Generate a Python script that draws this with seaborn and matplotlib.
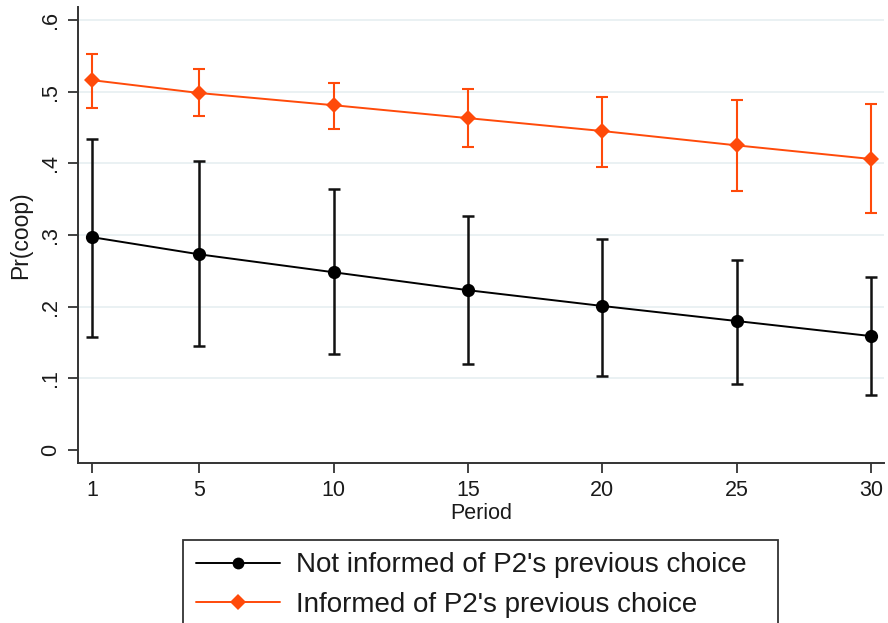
import matplotlib
matplotlib.use("Agg")
import matplotlib.pyplot as plt
from matplotlib.lines import Line2D
import seaborn as sns
import pandas as pd
import numpy as np

periods = [1, 5, 10, 15, 20, 25, 30]

not_inf = [0.297, 0.273, 0.248, 0.223, 0.201, 0.180, 0.159]
not_inf_lo = [0.158, 0.145, 0.134, 0.120, 0.103, 0.092, 0.077]
not_inf_hi = [0.434, 0.403, 0.364, 0.326, 0.294, 0.265, 0.241]

inf = [0.516, 0.498, 0.481, 0.463, 0.445, 0.425, 0.406]
inf_lo = [0.477, 0.466, 0.448, 0.423, 0.395, 0.361, 0.331]
inf_hi = [0.552, 0.531, 0.512, 0.503, 0.492, 0.488, 0.483]

labels = ["Not informed of P2's previous choice", "Informed of P2's previous choice"]
yticks = [0, 0.1, 0.2, 0.3, 0.4, 0.5, 0.6]
ytick_labels = ["0", ".1", ".2", ".3", ".4", ".5", ".6"]

BLACK = "#000000"
ORANGE = "#FF4A0A"

sns.set_style("white")
plt.rcParams["font.family"] = ["Liberation Sans", "DejaVu Sans"]

df = pd.DataFrame({
    "period": periods * 2,
    "p": not_inf + inf,
    "group": [labels[0]] * len(periods) + [labels[1]] * len(periods),
})

fig = plt.figure(figsize=(8.88, 6.23), dpi=100)
ax = fig.add_axes([78 / 888, (623 - 463) / 623, (884 - 78) / 888, (463 - 7) / 623])

# gridlines
for yv in yticks[1:]:
    ax.axhline(yv, color="#E6EFF1", lw=1.2, zorder=0)

# error bars
ax.errorbar(periods, not_inf,
            yerr=[np.array(not_inf) - np.array(not_inf_lo), np.array(not_inf_hi) - np.array(not_inf)],
            fmt="none", ecolor="#111111", elinewidth=1.8, capsize=4.3, capthick=1.8, zorder=2)
ax.errorbar(periods, inf,
            yerr=[np.array(inf) - np.array(inf_lo), np.array(inf_hi) - np.array(inf)],
            fmt="none", ecolor=ORANGE, elinewidth=1.5, capsize=4.3, capthick=1.5, zorder=2)

sns.lineplot(data=df, x="period", y="p", hue="group", style="group",
             palette={labels[0]: BLACK, labels[1]: ORANGE},
             markers={labels[0]: "o", labels[1]: "D"}, dashes=False,
             markersize=9.5, markeredgewidth=0, linewidth=1.4, ax=ax, legend=False, zorder=3)
for ln in ax.lines:
    if ln.get_marker() == "D":
        ln.set_markersize(8.2)

ax.set_xlim(0.48, 30.48)
ax.set_ylim(-0.018, 0.618)
ax.set_xticks(periods)
ax.set_xticklabels([str(p) for p in periods], fontsize=15.5)
ax.set_yticks(yticks)
ax.set_yticklabels(ytick_labels, fontsize=15.5, rotation=90, va="center")
ax.tick_params(axis="both", which="major", direction="out", length=7, width=1.3,
               color="#333333", pad=5, bottom=True, left=True, labelcolor="#1a1a1a")
ax.set_xlabel("Period", fontsize=15.5, labelpad=2, color="#1a1a1a")
ax.set_ylabel("Pr(coop)", fontsize=16.5, labelpad=6, color="#1a1a1a")

for s in ["top", "right"]:
    ax.spines[s].set_visible(False)
for s in ["left", "bottom"]:
    ax.spines[s].set_color("#333333")
    ax.spines[s].set_linewidth(1.4)

handles = [
    Line2D([0], [0], color=BLACK, lw=1.4, marker="o", markersize=8.5, markeredgewidth=0),
    Line2D([0], [0], color=ORANGE, lw=1.4, marker="D", markersize=8, markeredgewidth=0),
]
leg = fig.legend(handles, labels, loc="upper left",
                 bbox_to_anchor=(183 / 888, 0, (778 - 183) / 888, (623 - 540) / 623),
                 mode="expand", fontsize=20, frameon=True, fancybox=False,
                 edgecolor="#333333", framealpha=1, handlelength=3.05, handletextpad=0.55,
                 labelspacing=0.47, borderpad=0.45, borderaxespad=0,
                 labelcolor="#1a1a1a")
leg.get_frame().set_linewidth(1.3)

fig.savefig("out.png", dpi=100)
